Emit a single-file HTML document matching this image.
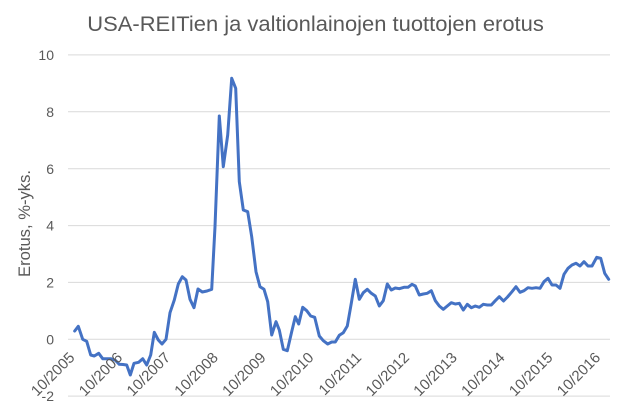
<!DOCTYPE html>
<html>
<head>
<meta charset="utf-8">
<style>
  html, body { margin: 0; padding: 0; background: #ffffff; }
  svg { display: block; }
  text { font-family: "Liberation Sans", sans-serif; fill: #595959; }
</style>
</head>
<body>
<svg width="631" height="407" viewBox="0 0 631 407" xmlns="http://www.w3.org/2000/svg">
  <rect x="0" y="0" width="631" height="407" fill="#ffffff"/>
  <!-- Title -->
  <text x="87.3" y="31" font-size="21" textLength="456.5" lengthAdjust="spacingAndGlyphs">USA-REITien ja valtionlainojen tuottojen erotus</text>

  <!-- Gridlines -->
  <g stroke="#d9d9d9" stroke-width="1">
    <line x1="68" y1="54.9" x2="610" y2="54.9"/>
    <line x1="68" y1="111.8" x2="610" y2="111.8"/>
    <line x1="68" y1="168.7" x2="610" y2="168.7"/>
    <line x1="68" y1="225.6" x2="610" y2="225.6"/>
    <line x1="68" y1="282.4" x2="610" y2="282.4"/>
    <line x1="68" y1="339.2" x2="610" y2="339.2"/>
    <line x1="68" y1="396.1" x2="610" y2="396.1"/>
  </g>

  <!-- Y tick labels -->
  <g font-size="14" text-anchor="end">
    <text x="54" y="60">10</text>
    <text x="54" y="116.9">8</text>
    <text x="54" y="173.8">6</text>
    <text x="54" y="230.7">4</text>
    <text x="54" y="287.5">2</text>
    <text x="54" y="344.3">0</text>
    <text x="54" y="401.2">-2</text>
  </g>

  <!-- Y axis title -->
  <text transform="translate(30,223.5) rotate(-90)" font-size="17" text-anchor="middle" textLength="107" lengthAdjust="spacingAndGlyphs">Erotus, %-yks.</text>

  <!-- Series -->
  <polyline fill="none" stroke="#4472c4" stroke-width="3" stroke-linejoin="round" stroke-linecap="round" points="
74.7,331 78.3,326.3 82.7,339.3 86.7,341.3 90.7,355 94.3,356 98.7,353.3 102.7,358.7 106.7,358.7 110.7,358.7 115,360 119.3,364.3 123,364.5 126.7,365 130.3,375 134,363.3 138.7,362.3 142.7,358.7 146.7,365 150.7,355 154.3,332.3 158.3,340 162,344 166,339.3 170,312.7 174.3,300 178.3,284 182.3,276.7 186,280 190,299.3 194,307.7 198,289 202.3,292 207,291 211.7,289.3 215,226.7 219.3,116 223.3,166.7 227.7,135 231.7,78.3 235.7,88.3 239.3,181.7 243.3,210 247.7,211.7 251.7,236.7 256,271.7 260,286.7 264,289.3 267.7,301.7 271.7,335 276,321.7 279.3,330 283.3,349.3 287.3,350.7 291.7,331.7 295.3,316.7 298.7,324 302.7,307.3 306.7,310.7 310.7,316 314.7,317.3 319.3,336 323.3,340.7 327.7,344 331.7,342 335.3,342 339.3,335.3 343.3,332.7 347.3,326 351.3,303.3 355.3,279.3 359.3,299.3 363.3,292.7 367.3,289.3 371.3,293.3 375.3,296 379.3,306 383.3,300.7 387.3,284 391.3,290 395.3,288 399.3,288.7 404,287.3 408,287.3 412,284.3 415.3,286 419.3,295 423.3,294 427.3,293.3 431.3,290.7 435.3,300.7 439.3,306 443.3,309.3 447.3,306 451.3,302.7 455.3,304 459.3,303.3 463.3,310 467.3,304.3 471.3,307.7 475.3,306 479.3,307.3 483.3,304.3 487.3,305 491.3,305 495.3,300.7 499.3,296.7 503.5,301 507.5,297 512,291.7 516,286.7 520,292.3 524,290.7 528,287.7 532,288.3 536,287.7 540,288.3 544,281.7 548,278.3 552,285 556,285 560,288.3 564,274.3 568,268.3 572,265 576,263.3 580,266 584,261.7 588,266 592,266 596.7,257.3 600.7,258.3 604.7,273.3 608.7,279.3"/>

  <!-- X labels (rotated -45) -->
  <g font-size="15" text-anchor="end">
    <text transform="translate(75.5,358.5) rotate(-45)">10/2005</text>
    <text transform="translate(123.3,358.5) rotate(-45)">10/2006</text>
    <text transform="translate(171.1,358.5) rotate(-45)">10/2007</text>
    <text transform="translate(218.9,358.5) rotate(-45)">10/2008</text>
    <text transform="translate(266.7,358.5) rotate(-45)">10/2009</text>
    <text transform="translate(314.5,358.5) rotate(-45)">10/2010</text>
    <text transform="translate(362.3,358.5) rotate(-45)">10/2011</text>
    <text transform="translate(410.1,358.5) rotate(-45)">10/2012</text>
    <text transform="translate(457.9,358.5) rotate(-45)">10/2013</text>
    <text transform="translate(505.7,358.5) rotate(-45)">10/2014</text>
    <text transform="translate(553.5,358.5) rotate(-45)">10/2015</text>
    <text transform="translate(601.3,358.5) rotate(-45)">10/2016</text>
  </g>
</svg>
</body>
</html>
